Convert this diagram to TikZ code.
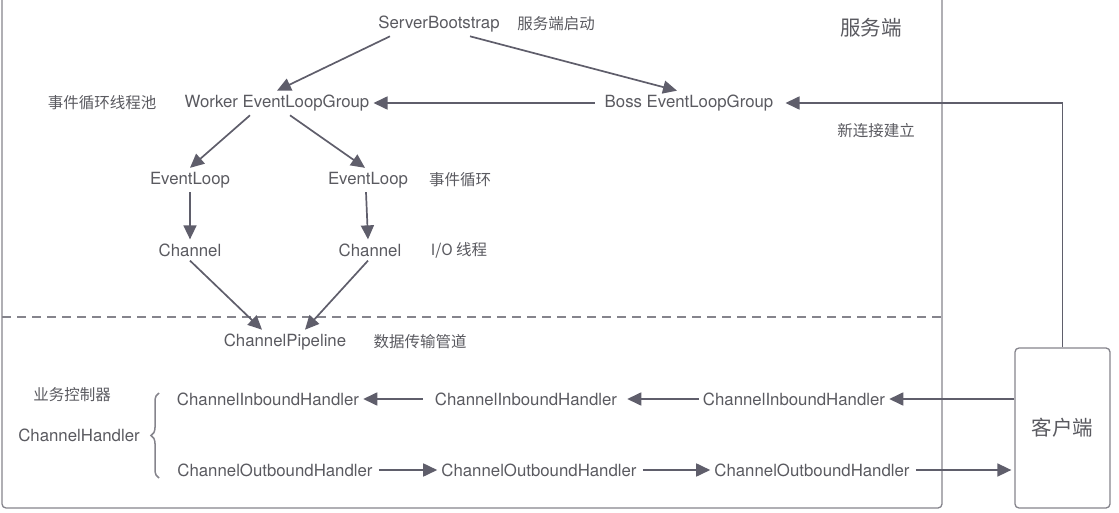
\documentclass[tikz,border=0pt]{standalone}
\usepackage{fontspec}
\setmainfont{TeX Gyre Heros}
\newfontfamily\cjk{Noto Sans CJK SC}
\usetikzlibrary{positioning,arrows.meta,decorations.pathreplacing}
\definecolor{linegray}{HTML}{5F5E6B}
\definecolor{boxgray}{HTML}{85848C}
\definecolor{textgray}{HTML}{5A5A60}
\tikzset{
  lbl/.style={text=textgray,font=\fontsize{16.8}{18}\selectfont,inner sep=4pt},
  zh/.style={text=textgray,font=\cjk\fontsize{15.5}{17}\selectfont,inner sep=4pt},
  zhbig/.style={text=textgray,font=\cjk\fontsize{20.5}{22}\selectfont,inner sep=4pt},
  arr/.style={draw=linegray,line width=1.7pt,-{Triangle[length=14pt,width=13pt]}},
  frame/.style={draw=boxgray,line width=1.3pt,rounded corners=4pt}
}

\begin{document}
\begin{tikzpicture}[x=1pt,y=-1pt]
  \useasboundingbox (0,0) rectangle (1119,513);
  % server side box and separator
  \draw[frame] (2,-10) -- (2,508) -- (942,508) -- (942,-10);
  \draw[boxgray,line width=1.5pt,dash pattern=on 9pt off 6pt] (2,317) -- (942,317);

  % upper part
  \node[lbl] (sb) at (439,24) {ServerBootstrap};
  \node[zh] (sbtxt) at (556,24) {服务端启动};
  \node[zhbig] (server) at (871,28) {服务端};
  \node[zh] (pooltxt) at (102,103) {事件循环线程池};
  \node[lbl] (worker) at (277,103) {Worker EventLoopGroup};
  \node[lbl] (boss) at (689,103) {Boss EventLoopGroup};
  \node[zh] (conntxt) at (876,131) {新连接建立};
  \node[lbl] (elA) at (190,180) {EventLoop};
  \node[lbl] (elB) at (368,180) {EventLoop};
  \node[zh] (eltxt) at (460,180) {事件循环};
  \node[lbl] (chA) at (190,250) {Channel};
  \node[lbl] (chB) at (370,250) {Channel};
  \node[zh] (iotxt) at (459,250) {I/O 线程};
  \node[lbl] (pipe) at (285,342) {ChannelPipeline};
  \node[zh] (pipetxt) at (420,342) {数据传输管道};

  % lower part
  \node[zh] (bizctl) at (72,395) {业务控制器};
  \node[lbl] (handler) at (79,435) {ChannelHandler};
  \node[lbl] (inA) at (268,399) {ChannelInboundHandler};
  \node[lbl] (inB) at (526,399) {ChannelInboundHandler};
  \node[lbl] (inC) at (794,399) {ChannelInboundHandler};
  \node[lbl] (outA) at (275,470) {ChannelOutboundHandler};
  \node[lbl] (outB) at (539,470) {ChannelOutboundHandler};
  \node[lbl] (outC) at (812,470) {ChannelOutboundHandler};
  \node[frame,zhbig,minimum width=95pt,minimum height=160pt] (client) at (1062.5,428) {客户端};
  \draw[decorate,decoration={brace,amplitude=8pt},boxgray,line width=1.5pt] (159,478) -- (159,393);

  % connectors
  \draw[arr] ([xshift=-49pt]sb.south) -- (worker.north);
  \draw[arr] ([xshift=31pt]sb.south) -- ([xshift=-12pt]boss.north);
  \draw[arr] ([xshift=-6pt]boss.west) -- (worker.east);
  \draw[arr] (client.north) |- ([xshift=8pt]boss.east);
  \draw[arr] ([xshift=-27pt]worker.south) -- (elA.north);
  \draw[arr] ([xshift=13pt]worker.south) -- ([xshift=-3pt]elB.north);
  \draw[arr] (elA.south) -- (chA.north);
  \draw[arr] ([xshift=-2pt]elB.south) -- ([xshift=-2pt]chB.north);
  \draw[arr] (chA.south) -- ([xshift=-23pt]pipe.north);
  \draw[arr] ([xshift=-2pt]chB.south) -- ([xshift=20pt]pipe.north);
  \draw[arr] (client.west |- inC) -- (inC.east);
  \draw[arr] (inC.west) -- ([xshift=6pt]inB.east);
  \draw[arr] ([xshift=-8pt]inB.west) -- (inA.east);
  \draw[arr] ([xshift=2pt]outA.east) -- (outB.west);
  \draw[arr] ([xshift=2pt]outB.east) -- (outC.west);
  \draw[arr] ([xshift=2pt]outC.east) -- ([xshift=-3pt]client.west |- outC);
\end{tikzpicture}
\end{document}
